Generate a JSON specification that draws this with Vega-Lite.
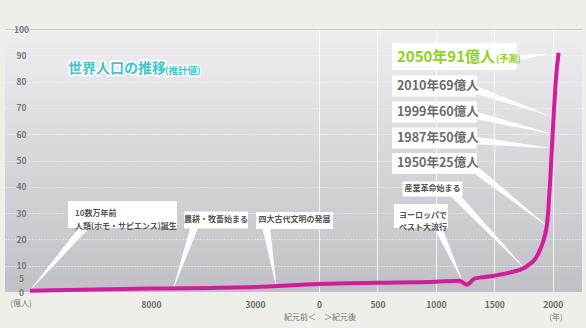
{
  "$schema": "https://vega.github.io/schema/vega-lite/v6.json",
  "width": 577,
  "height": 263,
  "autosize": {"type": "none"},
  "padding": {"left": 5, "top": 29, "right": 4, "bottom": 36},
  "background": "#efeee9",
  "datasets": {
    "pop": [
      {"year": -100000, "value": 0.5},
      {"year": -8000, "value": 1.3},
      {"year": -3000, "value": 1.9},
      {"year": 0, "value": 3.0},
      {"year": 500, "value": 3.5},
      {"year": 1000, "value": 3.9},
      {"year": 1200, "value": 4.3},
      {"year": 1265, "value": 2.8},
      {"year": 1330, "value": 5.1},
      {"year": 1500, "value": 6.2},
      {"year": 1650, "value": 7.6},
      {"year": 1750, "value": 9.0},
      {"year": 1800, "value": 10.5},
      {"year": 1850, "value": 12.6},
      {"year": 1890, "value": 16},
      {"year": 1920, "value": 19.5},
      {"year": 1940, "value": 23},
      {"year": 1950, "value": 25.5},
      {"year": 1960, "value": 30},
      {"year": 1970, "value": 37},
      {"year": 1980, "value": 44},
      {"year": 1987, "value": 50},
      {"year": 1999, "value": 60},
      {"year": 2010, "value": 69},
      {"year": 2025, "value": 80},
      {"year": 2050, "value": 91}
    ],
    "notes": [
      {"kind": "small2", "label": "10数万年前\n人類(ホモ・サピエンス)誕生", "sub": "", "year": -65800, "value": 29.5, "byear": -58900, "bvalue": 24.5, "tyear": -100000, "tvalue": 0.6},
      {"kind": "small", "label": "農耕・牧畜始まる", "sub": "", "year": -4875, "value": 27.4, "byear": -5885, "bvalue": 25.5, "tyear": -6900, "tvalue": 1.9},
      {"kind": "small", "label": "四大古代文明の発展", "sub": "", "year": -1148, "value": 27.2, "byear": -2484, "bvalue": 25.1, "tyear": -2016, "tvalue": 2.6},
      {"kind": "small2", "label": "ヨーロッパで\nペスト大流行", "sub": "", "year": 684, "value": 28.9, "byear": 1009, "bvalue": 25.5, "tyear": 1222, "tvalue": 4.6},
      {"kind": "small", "label": "産業革命始まる", "sub": "", "year": 971, "value": 39.2, "byear": 1138, "bvalue": 38, "tyear": 1745, "tvalue": 9.6},
      {"kind": "big", "label": "1950年25億人", "sub": "", "year": 667, "value": 48.9, "byear": 1300, "bvalue": 47.9, "tyear": 1950, "tvalue": 25.1},
      {"kind": "big", "label": "1987年50億人", "sub": "", "year": 667, "value": 58.6, "byear": 1300, "bvalue": 57.8, "tyear": 1955, "tvalue": 54.8},
      {"kind": "big", "label": "1999年60億人", "sub": "", "year": 667, "value": 68.4, "byear": 1300, "bvalue": 67.6, "tyear": 1955, "tvalue": 60.5},
      {"kind": "big", "label": "2010年69億人", "sub": "", "year": 667, "value": 78.3, "byear": 1300, "bvalue": 77.5, "tyear": 1955, "tvalue": 67.3},
      {"kind": "forecast", "label": "2050年91億人", "sub": "(予測)", "year": 667, "value": 89.5, "byear": 1591, "bvalue": 88.5, "tyear": 1950, "tvalue": 90.5}
    ],
    "bands": [
      {"century": "20世紀", "start": 1900, "end": 2000},
      {"century": "21世紀", "start": 2000, "end": 2100}
    ],
    "breaks": [
      {"year": -50600},
      {"year": -5500},
      {"year": -563}
    ],
    "axisnotes": [
      {"label": "(億人)", "year": -106800, "value": -4.4},
      {"label": "紀元前＜　＞紀元後", "year": 9, "value": -9.9},
      {"label": "(年)", "year": 2028, "value": -9.9}
    ],
    "heading": [
      {"label": "世界人口の推移", "sub": "(推計値)", "year": -71100, "value": 84.8}
    ]
  },
  "resolve": {"scale": {"shape": "independent", "color": "independent"}},
  "encoding": {
    "x": {
      "field": "year",
      "type": "quantitative",
      "scale": {"type": "linear", "domain": [-119000, -8000, -3000, 0, 2250], "range": [0, 146, 250, 314, 577], "nice": false, "zero": false},
      "axis": {
        "values": [-8000, -3000, 0, 500, 1000, 1500, 2000],
        "labelExpr": "format(abs(datum.value), 'd')",
        "title": null,
        "domain": false,
        "ticks": false,
        "tickSize": 0,
        "labelPadding": 8,
        "labelFontSize": 8.5,
        "labelFont": "Noto Sans CJK JP",
        "labelFontWeight": "bold",
        "labelColor": "#6a6a6a",
        "labelFlush": false,
        "labelOverlap": false,
        "grid": true,
        "gridColor": "#ffffff",
        "gridOpacity": {"condition": {"test": "datum.value < 0", "value": 0}, "value": 0.75}
      }
    },
    "y": {
      "field": "value",
      "type": "quantitative",
      "scale": {"domain": [0, 100], "nice": false, "zero": false},
      "axis": {
        "values": [0, 5, 10, 20, 30, 40, 50, 60, 70, 80, 90, 100],
        "title": null,
        "domain": false,
        "ticks": false,
        "tickSize": 0,
        "labelAlign": "center",
        "labelPadding": -16,
        "labelFontSize": 8.5,
        "labelFont": "Noto Sans CJK JP",
        "labelFontWeight": "bold",
        "labelColor": "#777777",
        "labelFlush": false,
        "labelOverlap": false,
        "grid": true,
        "gridColor": {"condition": {"test": "datum.value == 100", "value": "#c4c4c4"}, "value": "#ffffff"},
        "gridDash": {"condition": {"test": "datum.value == 100", "value": []}, "value": [1, 2]},
        "gridOpacity": {"condition": {"test": "datum.value <= 5", "value": 0}, "value": 0.9}
      }
    }
  },
  "layer": [
    {
      "data": {"values": [{}]},
      "mark": {"type": "rect", "color": "#bde5e8", "opacity": 0.22},
      "encoding": {"x": {"datum": 0}, "x2": {"datum": 2250}, "y": {"datum": 0}, "y2": {"datum": 100}}
    },
    {
      "data": {"name": "bands"},
      "mark": {"type": "rect", "opacity": 0.85},
      "encoding": {
        "x": {"field": "start", "type": "quantitative"},
        "x2": {"field": "end"},
        "y": {"datum": 0},
        "y2": {"datum": 103.5},
        "color": {"field": "century", "type": "nominal", "scale": {"domain": ["20世紀", "21世紀"], "range": ["#b3e1e4", "#84d3d7"]}, "legend": null}
      }
    },
    {
      "data": {"name": "bands"},
      "mark": {"type": "point", "filled": true, "size": 4, "opacity": 1, "strokeWidth": 0},
      "encoding": {
        "x": {"datum": 2000},
        "y": {"datum": 106},
        "shape": {"field": "century", "type": "nominal", "scale": {"domain": ["20世紀", "21世紀"], "range": ["M-29,-8H-2V8H-29Z", "M1,-8H29V8H1Z"]}, "legend": null},
        "color": {"field": "century", "type": "nominal", "scale": {"domain": ["20世紀", "21世紀"], "range": ["#d3eef0", "#a9e0e3"]}, "legend": null}
      }
    },
    {
      "data": {"name": "bands"},
      "transform": [{"filter": "datum.century == '20世紀'"}],
      "mark": {"type": "text", "align": "right", "baseline": "middle", "dx": -5, "fontSize": 8, "font": "Noto Sans CJK JP", "fontWeight": "bold", "color": "#6f8485"},
      "encoding": {"x": {"field": "end", "type": "quantitative"}, "y": {"datum": 106}, "text": {"field": "century"}}
    },
    {
      "data": {"name": "bands"},
      "transform": [{"filter": "datum.century == '21世紀'"}],
      "mark": {"type": "text", "align": "left", "baseline": "middle", "dx": 4, "fontSize": 8, "font": "Noto Sans CJK JP", "fontWeight": "bold", "color": "#ffffff"},
      "encoding": {"x": {"field": "start", "type": "quantitative"}, "y": {"datum": 106}, "text": {"field": "century"}}
    },
    {
      "data": {"name": "notes"},
      "transform": [
        {"fold": ["byear", "tyear"], "as": ["end", "year"]},
        {"calculate": "datum.end == 'byear' ? datum.bvalue : datum.tvalue", "as": "value"},
        {"calculate": "datum.end == 'byear' ? 8 : 0.6", "as": "w"}
      ],
      "mark": {"type": "trail", "color": "#ffffff", "opacity": 0.95},
      "encoding": {
        "size": {"field": "w", "type": "quantitative", "scale": null},
        "detail": {"field": "label"}
      }
    },
    {
      "data": {"name": "pop"},
      "mark": {"type": "line", "color": "#d01d9c", "strokeWidth": 4, "interpolate": "monotone"},
      "encoding": {}
    },
    {
      "data": {"name": "breaks"},
      "mark": {"type": "point", "shape": "M0,-15C3,-13,3,-10,0,-8C-3,-6,-3,-3,0,-1C3,1,3,4,0,6C-3,8,-3,11,0,13L0,15", "size": 4, "filled": false, "stroke": "#8a8a8a", "strokeWidth": 3.6, "opacity": 1},
      "encoding": {"y": {"datum": 1.9}}
    },
    {
      "data": {"name": "breaks"},
      "mark": {"type": "point", "shape": "M0,-15C3,-13,3,-10,0,-8C-3,-6,-3,-3,0,-1C3,1,3,4,0,6C-3,8,-3,11,0,13L0,15", "size": 4, "filled": false, "stroke": "#f4f4f4", "strokeWidth": 1.8, "opacity": 1},
      "encoding": {"y": {"datum": 1.9}}
    },
    {
      "data": {"name": "notes"},
      "mark": {"type": "point", "filled": true, "size": 4, "color": "#ffffff", "opacity": 1, "strokeWidth": 0},
      "encoding": {
        "shape": {
          "field": "label",
          "type": "nominal",
          "scale": {
            "domain": ["10数万年前\n人類(ホモ・サピエンス)誕生", "農耕・牧畜始まる", "四大古代文明の発展", "ヨーロッパで\nペスト大流行", "産業革命始まる", "1950年25億人", "1987年50億人", "1999年60億人", "2010年69億人", "2050年91億人"],
            "range": ["M-7,-13.5H102V13.5H-7Z", "M-32,-8.5H32V8.5H-32Z", "M-38.5,-8.5H38.5V8.5H-38.5Z", "M-5,-12H49V12H-5Z", "M-30,-7.5H30V7.5H-30Z", "M-5,-10.5H80V10.5H-5Z", "M-5,-10.5H80V10.5H-5Z", "M-5,-10.5H80V10.5H-5Z", "M-5,-10.5H80V10.5H-5Z", "M-5,-13.5H120V13.5H-5Z"]
          },
          "legend": null
        }
      }
    },
    {
      "data": {"name": "notes"},
      "transform": [{"filter": "datum.kind == 'small'"}],
      "mark": {"type": "text", "align": "center", "baseline": "middle", "fontSize": 8, "font": "Noto Sans CJK JP", "fontWeight": "bold", "color": "#555555"},
      "encoding": {"text": {"field": "label"}}
    },
    {
      "data": {"name": "notes"},
      "transform": [{"filter": "datum.kind == 'small2'"}],
      "mark": {"type": "text", "align": "left", "baseline": "middle", "lineBreak": "\n", "lineHeight": 12.5, "fontSize": 8, "font": "Noto Sans CJK JP", "fontWeight": "bold", "color": "#555555"},
      "encoding": {"text": {"field": "label"}}
    },
    {
      "data": {"name": "notes"},
      "transform": [{"filter": "datum.kind == 'big'"}],
      "mark": {"type": "text", "align": "left", "baseline": "middle", "fontSize": 12.5, "font": "Noto Sans CJK JP", "fontWeight": "bold", "color": "#6b6b6b"},
      "encoding": {"text": {"field": "label"}}
    },
    {
      "data": {"name": "notes"},
      "transform": [{"filter": "datum.kind == 'forecast'"}],
      "mark": {"type": "text", "align": "left", "baseline": "middle", "fontSize": 15, "font": "Noto Sans CJK JP", "fontWeight": "bold", "color": "#8dd11f"},
      "encoding": {"text": {"field": "label"}}
    },
    {
      "data": {"name": "notes"},
      "transform": [{"filter": "datum.kind == 'forecast'"}],
      "mark": {"type": "text", "align": "left", "baseline": "middle", "dx": 99, "dy": 2, "fontSize": 9, "font": "Noto Sans CJK JP", "fontWeight": "bold", "color": "#8dd11f"},
      "encoding": {"text": {"field": "sub"}}
    },
    {
      "data": {"name": "heading"},
      "mark": {"type": "text", "align": "left", "baseline": "middle", "fontSize": 14, "font": "Noto Sans CJK JP", "fontWeight": "bold", "color": "#ffffff", "stroke": "#ffffff", "strokeWidth": 3.5, "strokeJoin": "round"},
      "encoding": {"text": {"field": "label"}}
    },
    {
      "data": {"name": "heading"},
      "mark": {"type": "text", "align": "left", "baseline": "middle", "dx": 97, "dy": 2, "fontSize": 9.5, "font": "Noto Sans CJK JP", "fontWeight": "bold", "color": "#ffffff", "stroke": "#ffffff", "strokeWidth": 3, "strokeJoin": "round"},
      "encoding": {"text": {"field": "sub"}}
    },
    {
      "data": {"name": "heading"},
      "mark": {"type": "text", "align": "left", "baseline": "middle", "fontSize": 14, "font": "Noto Sans CJK JP", "fontWeight": "bold", "color": "#3fc4c8"},
      "encoding": {"text": {"field": "label"}}
    },
    {
      "data": {"name": "heading"},
      "mark": {"type": "text", "align": "left", "baseline": "middle", "dx": 97, "dy": 2, "fontSize": 9.5, "font": "Noto Sans CJK JP", "fontWeight": "bold", "color": "#3fc4c8"},
      "encoding": {"text": {"field": "sub"}}
    },
    {
      "data": {"name": "axisnotes"},
      "mark": {"type": "text", "align": "center", "baseline": "middle", "fontSize": 8, "font": "Noto Sans CJK JP", "color": "#777777"},
      "encoding": {"text": {"field": "label"}}
    }
  ],
  "config": {
    "font": "Noto Sans CJK JP",
    "view": {
      "stroke": null,
      "fill": {"gradient": "linear", "x1": 0, "y1": 0, "x2": 0, "y2": 1, "stops": [{"offset": 0, "color": "#efeef1"}, {"offset": 0.45, "color": "#d9d8dd"}, {"offset": 1, "color": "#c1c0c6"}]}
    }
  }
}
